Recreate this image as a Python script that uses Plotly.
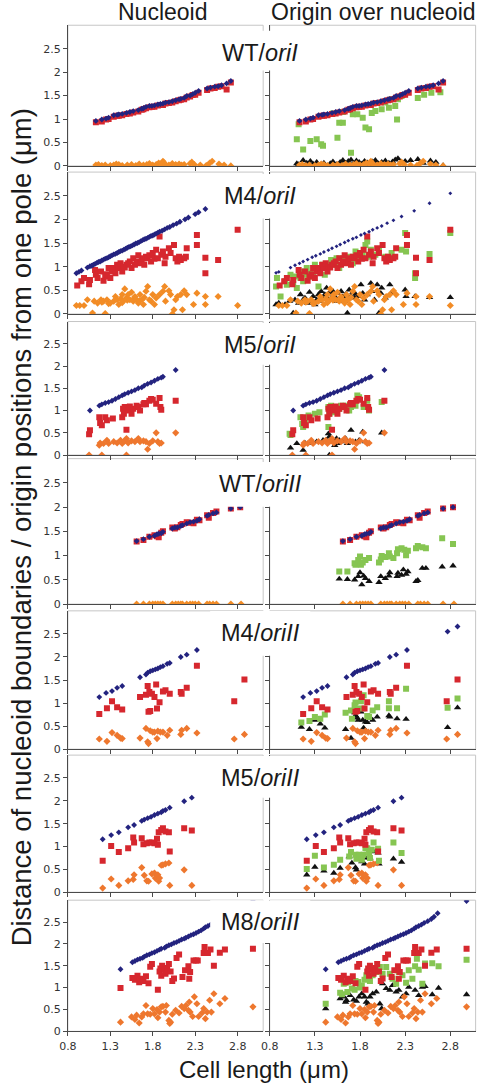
import plotly.graph_objects as go

W, H = 482, 1090

# ---------------- labels ----------------
x_ticks = [0.8, 1.3, 1.8, 2.3, 2.8]
x_tick_labels = ["0.8", "1.3", "1.8", "2.3", "2.8"]
y_ticks = [0, 0.5, 1, 1.5, 2, 2.5]
y_tick_labels = ["0", "0.5", "1", "1.5", "2", "2.5"]
column_titles = ["Nucleoid", "Origin over nucleoid"]
row_titles = ["WT/<i>oriI</i>", "M4/<i>oriI</i>", "M5/<i>oriI</i>", "WT/<i>oriII</i>",
              "M4/<i>oriII</i>", "M5/<i>oriII</i>", "M8/<i>oriII</i>"]
x_axis_title = "Cell length (μm)"
y_axis_title = "Distance of nucleoid boundaries / origin positions from one pole (μm)"

# ---------------- WT / oriI ----------------
WT_oriI_blue_x = [1.13,1.20,1.25,1.28,1.34,1.38,1.40,1.44,1.49,1.53,1.57,1.63,1.67,1.69,1.72,1.76,1.79,1.82,1.86,1.89,
                  1.92,1.95,1.99,2.03,2.07,2.11,2.13,2.17,2.20,2.24,2.27,2.30,2.34,2.44,2.48,2.53,2.57,2.61,2.67,2.72]
WT_oriI_blue_y = [0.96,0.99,1.01,1.03,1.08,1.09,1.10,1.11,1.13,1.15,1.17,1.19,1.22,1.23,1.26,1.28,1.28,1.29,1.31,1.32,
                  1.33,1.35,1.36,1.38,1.40,1.42,1.43,1.45,1.49,1.50,1.53,1.56,1.60,1.65,1.67,1.69,1.70,1.72,1.76,1.81]
WT_oriI_red_x = [1.13,1.20,1.25,1.28,1.34,1.38,1.40,1.44,1.49,1.53,1.57,1.63,1.67,1.69,1.72,1.76,1.79,1.82,1.86,1.89,
                 1.92,1.95,1.99,2.03,2.07,2.11,2.13,2.17,2.20,2.24,2.27,2.30,2.34,2.44,2.48,2.53,2.57,2.61,2.67,2.72]
WT_oriI_red_y = [0.93,0.95,0.99,1.00,1.05,1.07,1.07,1.08,1.11,1.12,1.14,1.16,1.20,1.21,1.23,1.25,1.26,1.26,1.29,1.30,
                 1.30,1.33,1.34,1.35,1.38,1.40,1.41,1.42,1.46,1.48,1.51,1.52,1.56,1.62,1.65,1.66,1.69,1.70,1.63,1.78]
WT_oriI_orange_x = [1.13,1.16,1.20,1.24,1.30,1.34,1.37,1.40,1.44,1.50,1.55,1.60,1.64,1.69,1.73,1.76,1.80,1.84,1.87,1.90,
                    1.92,1.93,1.95,1.99,2.03,2.07,2.11,2.14,2.17,2.24,2.26,2.29,2.36,2.43,2.47,2.50,2.58,2.64,2.72]
WT_oriI_orange_y = [0.02,0.03,0.01,0.02,0.01,0.02,0.04,0.03,0.01,0.02,0.03,0.01,0.04,0.02,0.03,0.05,0.02,0.03,0.06,0.04,
                    0.10,0.07,0.03,0.02,0.05,0.03,0.04,0.02,0.03,0.05,0.08,0.03,0.02,0.01,0.06,0.10,0.04,0.02,0.00]
WT_oriI_green_x = [1.10,1.12,1.17,1.25,1.32,1.37,1.39,1.50,1.55,1.57,1.61,1.61,1.70,1.72,1.77,1.83,1.86,1.90,1.93,1.97,
                   2.04,2.08,2.12,2.15,2.19,2.21,2.22,2.26,2.44,2.51,2.59,2.69]
WT_oriI_green_y = [0.57,0.89,0.35,0.53,0.57,0.46,0.43,1.12,0.60,0.92,0.92,1.15,0.28,1.10,1.10,1.03,0.82,0.78,1.13,1.17,
                   1.21,1.35,1.24,1.42,1.28,0.99,1.42,1.49,1.45,1.52,1.56,1.57]
WT_oriI_black_x = [1.10,1.12,1.17,1.21,1.25,1.28,1.32,1.36,1.40,1.43,1.47,1.50,1.54,1.58,1.61,1.64,1.67,1.70,1.73,1.76,
                   1.79,1.82,1.85,1.88,1.91,1.94,1.97,2.00,2.04,2.08,2.12,2.16,2.19,2.22,2.26,2.30,2.36,2.44,2.50,2.58,
                   2.64,2.72]
WT_oriI_black_y = [0.05,0.03,0.12,0.06,0.10,0.04,0.08,0.02,0.06,0.00,0.05,0.09,0.03,0.08,0.12,0.06,0.10,0.13,0.05,0.11,
                   0.08,0.04,0.10,0.07,0.03,0.09,0.12,0.05,0.08,0.11,0.06,0.09,0.13,0.16,0.07,0.10,0.12,0.14,0.06,0.11,
                   0.08,0.01]

# ---------------- M4 / oriI ----------------
M4_oriI_blue_x = [0.90,0.93,0.96,1.03,1.06,1.08,1.10,1.12,1.14,1.16,1.18,1.20,1.22,1.24,1.26,1.28,1.30,1.32,1.34,1.36,
                  1.38,1.40,1.42,1.44,1.46,1.48,1.50,1.52,1.54,1.56,1.58,1.60,1.62,1.64,1.66,1.68,1.70,1.72,1.74,1.76,
                  1.78,1.80,1.82,1.84,1.86,1.88,1.91,1.94,1.97,2.00,2.04,2.08,2.12,2.18,2.22,2.30,2.34,2.42]
M4_oriI_blue_y = [0.86,0.89,0.92,0.98,1.01,1.02,1.04,1.06,1.08,1.10,1.11,1.13,1.15,1.17,1.18,1.20,1.22,1.24,1.26,1.27,
                  1.29,1.31,1.33,1.34,1.36,1.38,1.40,1.42,1.43,1.45,1.47,1.49,1.50,1.52,1.54,1.56,1.58,1.59,1.61,1.63,
                  1.65,1.66,1.68,1.70,1.72,1.74,1.76,1.79,1.82,1.84,1.88,1.91,1.95,2.00,2.04,2.11,2.15,2.22]
M4_oriI_blue_right_x = [0.87,0.90,1.03,1.08,1.13,1.17,1.22,1.27,1.31,1.36,1.40,1.45,1.49,1.54,1.58,1.63,1.67,1.72,1.76,
                        1.81,1.85,1.90,1.94,1.99,2.04,2.10,2.17,2.26,2.40,2.57,2.80]
M4_oriI_blue_right_y = [0.87,0.89,0.98,1.03,1.07,1.11,1.15,1.20,1.23,1.27,1.31,1.35,1.39,1.43,1.47,1.51,1.55,1.59,1.62,
                        1.67,1.70,1.74,1.78,1.82,1.86,1.92,1.98,2.06,2.18,2.34,2.55]
M4_oriI_red_x = [0.91,0.96,0.99,1.05,1.06,1.12,1.13,1.15,1.19,1.22,1.24,1.26,1.28,1.30,1.32,1.34,1.36,1.38,1.40,1.42,
                 1.44,1.45,1.47,1.49,1.51,1.53,1.55,1.57,1.59,1.61,1.63,1.65,1.67,1.69,1.70,1.72,1.74,1.76,1.78,1.80,
                 1.82,1.84,1.86,1.88,1.90,1.92,1.94,1.95,1.99,2.01,2.05,2.07,2.09,2.11,2.13,2.17,2.19,2.20,2.32,2.32,
                 2.42,2.42,2.57,2.80]
M4_oriI_red_y = [0.60,0.69,0.76,0.63,0.72,0.93,0.83,0.76,0.90,0.70,0.79,0.84,0.97,0.76,0.90,0.97,0.86,1.04,0.97,1.07,
                 0.90,1.00,0.98,1.04,1.07,1.11,0.97,1.18,1.04,1.11,1.24,1.07,1.14,1.18,1.04,1.21,1.18,1.24,1.11,1.29,
                 1.17,1.36,1.18,1.64,1.25,1.32,1.07,1.21,1.39,1.29,1.46,1.18,1.11,1.21,1.14,1.18,1.21,1.39,1.67,1.46,
                 1.19,0.86,1.14,1.78]
M4_oriI_orange_x = [0.90,0.94,0.99,1.03,1.09,1.11,1.15,1.19,1.20,1.22,1.24,1.26,1.28,1.30,1.34,1.36,1.38,1.40,1.42,1.44,
                    1.44,1.45,1.47,1.49,1.50,1.51,1.53,1.55,1.57,1.58,1.59,1.61,1.63,1.64,1.65,1.67,1.69,1.70,1.72,1.74,
                    1.76,1.78,1.80,1.82,1.84,1.88,1.92,1.94,1.95,1.99,2.01,2.03,2.05,2.07,2.09,2.13,2.15,2.17,2.20,2.28,
                    2.32,2.42,2.42,2.57,2.80]
M4_oriI_orange_y = [0.18,0.18,0.18,0.30,0.02,0.27,0.23,0.30,0.25,0.27,0.01,0.30,0.22,0.23,0.27,0.37,0.30,0.20,0.32,0.41,
                    0.24,0.27,0.53,0.34,0.29,0.41,0.30,0.46,0.27,0.33,0.37,0.30,0.23,0.28,0.41,0.30,0.20,0.35,0.48,0.58,
                    0.30,0.27,0.41,0.20,0.34,0.41,0.48,0.58,0.27,0.49,0.41,0.00,0.09,0.30,0.37,0.41,0.09,0.49,0.41,0.20,
                    0.44,0.37,0.20,0.37,0.18]
M4_oriI_green_x = [0.87,0.88,0.92,0.97,0.99,1.03,1.06,1.08,1.10,1.14,1.16,1.17,1.19,1.21,1.25,1.28,1.30,1.32,1.34,1.35,
                   1.39,1.41,1.43,1.46,1.48,1.50,1.54,1.55,1.57,1.61,1.64,1.68,1.70,1.72,1.75,1.79,1.83,1.86,1.88,1.90,
                   1.92,1.97,2.01,2.08,2.13,2.15,2.26,2.30,2.31,2.41,2.41,2.57,2.80]
M4_oriI_green_y = [0.58,0.76,0.37,0.69,0.62,0.83,0.65,0.79,0.55,0.76,0.90,0.69,0.83,0.97,0.86,0.79,1.04,0.93,0.58,0.97,
                   1.04,0.83,1.04,1.00,1.14,1.04,1.18,1.04,0.97,1.18,1.14,1.21,1.11,1.07,1.32,1.21,1.25,1.46,1.53,1.21,
                   1.36,1.25,1.36,1.21,1.18,1.29,1.36,1.71,1.32,0.86,0.76,1.27,1.71]
M4_oriI_black_x = [0.87,0.90,0.97,1.02,1.06,1.08,1.12,1.14,1.17,1.19,1.22,1.24,1.26,1.28,1.30,1.32,1.34,1.35,1.37,1.39,
                   1.41,1.43,1.45,1.46,1.48,1.50,1.52,1.54,1.55,1.57,1.59,1.61,1.63,1.64,1.66,1.68,1.70,1.72,1.74,1.75,
                   1.78,1.81,1.83,1.85,1.88,1.92,1.93,1.96,1.99,2.01,2.03,2.04,2.08,2.13,2.15,2.30,2.31,2.41,2.57,2.80]
M4_oriI_black_y = [0.20,0.23,0.20,0.27,0.02,0.30,0.23,0.41,0.30,0.34,0.23,0.46,0.27,0.37,0.20,0.30,0.41,0.27,0.48,0.34,
                   0.41,0.55,0.30,0.44,0.34,0.48,0.37,0.27,0.44,0.32,0.48,0.37,0.27,0.41,0.02,0.51,0.37,0.46,0.34,0.42,
                   0.37,0.62,0.44,0.30,0.41,0.65,0.48,0.30,0.62,0.02,0.44,0.55,0.34,0.62,0.44,0.51,0.37,0.37,0.35,0.35]

# ---------------- M5 / oriI ----------------
M5_oriI_blue_x = [1.06,1.17,1.20,1.24,1.28,1.32,1.36,1.40,1.44,1.47,1.51,1.55,1.59,1.63,1.67,1.70,1.74,1.78,1.82,1.86,
                  1.90,1.92,2.07]
M5_oriI_blue_y = [1.00,1.11,1.14,1.17,1.19,1.22,1.26,1.30,1.34,1.37,1.40,1.43,1.46,1.50,1.52,1.56,1.60,1.63,1.67,1.71,
                  1.74,1.76,1.91]
M5_oriI_red_x = [1.05,1.06,1.17,1.18,1.20,1.24,1.26,1.33,1.44,1.45,1.46,1.47,1.49,1.51,1.53,1.55,1.57,1.61,1.63,1.65,
                 1.69,1.70,1.72,1.76,1.78,1.80,1.84,1.88,1.89,1.90,2.07]
M5_oriI_red_y = [0.47,0.56,0.85,0.72,0.67,0.85,0.78,0.82,0.85,1.04,0.93,1.08,0.57,1.00,1.09,0.93,1.04,1.11,1.08,1.00,
                 1.14,1.17,1.14,1.22,1.26,1.24,1.15,1.28,1.08,1.02,1.22]
M5_oriI_orange_x = [1.05,1.20,1.49,1.17,1.18,1.22,1.26,1.28,1.34,1.38,1.42,1.44,1.47,1.49,1.51,1.55,1.59,1.63,1.65,1.69,
                    1.72,1.74,1.76,1.80,1.84,1.86,1.88,1.90,2.07]
M5_oriI_orange_y = [0.00,0.00,0.00,0.22,0.27,0.26,0.33,0.26,0.30,0.27,0.33,0.26,0.32,0.37,0.27,0.32,0.30,0.37,0.30,0.32,
                    0.30,0.13,0.26,0.32,0.50,0.30,0.26,0.27,0.50]
M5_oriI_green_x = [1.02,1.03,1.14,1.16,1.17,1.19,1.23,1.30,1.35,1.45,1.45,1.46,1.48,1.50,1.54,1.57,1.59,1.64,1.68,1.70,
                   1.75,1.77,1.79,1.84,1.88,1.90,2.04]
M5_oriI_green_y = [0.48,0.45,0.85,0.70,0.63,0.78,0.89,0.93,0.96,1.08,0.63,0.93,1.11,0.96,1.08,1.04,1.11,1.11,1.00,1.08,
                   1.11,1.34,1.30,1.08,1.22,1.00,1.19]
M5_oriI_black_x = [1.03,1.10,1.17,1.19,1.26,1.32,1.39,1.43,1.45,1.46,1.46,1.48,1.50,1.52,1.54,1.55,1.57,1.61,1.64,1.66,
                   1.70,1.75,1.79,1.83,1.86,2.04]
M5_oriI_black_y = [0.16,0.26,0.11,0.27,0.27,0.30,0.33,0.33,0.48,0.00,0.41,0.30,0.33,0.22,0.37,0.26,0.33,0.30,0.37,0.26,
                   0.56,0.30,0.33,0.52,0.30,0.50]

# ---------------- WT / oriII ----------------
WT_oriII_blue_x = [1.61,1.69,1.76,1.82,1.85,1.87,1.90,1.92,2.03,2.06,2.09,2.13,2.15,2.20,2.24,2.28,2.32,2.35,2.44,2.46,
                   2.51,2.55,2.72,2.83]
WT_oriII_blue_y = [1.30,1.34,1.39,1.41,1.44,1.45,1.46,1.49,1.56,1.58,1.58,1.61,1.63,1.66,1.69,1.70,1.72,1.75,1.82,1.84,
                   1.87,1.89,1.97,2.00]
WT_oriII_red_x = [1.61,1.69,1.76,1.82,1.85,1.87,1.90,1.92,2.03,2.06,2.09,2.13,2.15,2.20,2.24,2.28,2.32,2.35,2.44,2.46,
                  2.51,2.55,2.72,2.83]
WT_oriII_red_y = [1.29,1.32,1.39,1.42,1.40,1.38,1.47,1.50,1.58,1.56,1.585,1.63,1.65,1.69,1.68,1.67,1.74,1.73,1.83,1.78,
                  1.88,1.91,1.97,2.00]
WT_oriII_orange_x = [1.61,1.69,1.76,1.80,1.83,1.86,1.89,1.92,2.03,2.07,2.10,2.13,2.15,2.20,2.24,2.27,2.30,2.34,2.44,2.47,
                     2.51,2.55,2.72,2.84]
WT_oriII_orange_y = [0.0,0.0,0.0,0.0,0.0,0.0,0.0,0.0,0.0,0.0,0.0,0.0,0.0,0.0,0.0,0.0,0.0,0.0,0.0,0.0,
                     0.0,0.0,0.0,0.0]
WT_oriII_green_x = [1.57,1.66,1.74,1.75,1.78,1.80,1.81,1.83,1.86,1.90,2.01,2.03,2.04,2.08,2.12,2.13,2.17,2.21,2.22,2.26,
                    2.29,2.31,2.33,2.42,2.44,2.49,2.53,2.71,2.83]
WT_oriII_green_y = [0.67,0.67,0.84,0.81,0.91,0.98,0.81,0.86,0.91,0.95,0.86,0.92,0.99,0.97,1.05,0.98,0.95,1.05,1.13,1.15,
                    1.12,1.01,1.10,1.15,1.20,1.17,1.15,1.36,1.24]
WT_oriII_black_x = [1.57,1.66,1.74,1.78,1.80,1.82,1.84,1.86,1.90,2.01,2.03,2.08,2.12,2.13,2.21,2.22,2.26,2.28,2.31,2.33,
                    2.42,2.44,2.49,2.53,2.71,2.83]
WT_oriII_black_y = [0.52,0.51,0.50,0.57,0.65,0.40,0.58,0.53,0.47,0.45,0.57,0.53,0.58,0.65,0.57,0.64,0.60,0.71,0.62,0.67,
                    0.47,0.49,0.74,0.74,0.77,0.79]

# ---------------- M4 / oriII ----------------
M4_oriII_blue_x = [1.17,1.25,1.32,1.38,1.44,1.65,1.72,1.74,1.77,1.80,1.83,1.86,1.89,1.92,1.97,2.00,2.13,2.20,2.32,2.77,2.88]
M4_oriII_blue_y = [1.13,1.22,1.26,1.33,1.37,1.56,1.62,1.66,1.69,1.71,1.73,1.75,1.78,1.80,1.85,1.87,2.00,2.05,2.15,2.55,2.66]
M4_oriII_red_x = [1.17,1.26,1.32,1.38,1.44,1.65,1.72,1.74,1.75,1.76,1.77,1.79,1.82,1.84,1.85,1.88,1.92,1.95,2.00,2.13,
                  2.14,2.20,2.32,2.76,2.88]
M4_oriII_red_y = [0.76,0.89,1.04,0.91,0.86,1.13,1.18,1.37,0.81,1.24,0.83,1.20,1.13,1.40,0.88,1.02,1.25,1.28,1.20,1.24,
                  1.20,1.33,1.81,1.04,1.51]
M4_oriII_orange_x = [1.17,1.26,1.32,1.38,1.42,1.44,1.65,1.72,1.74,1.75,1.77,1.80,1.82,1.85,1.86,1.89,1.92,1.97,2.00,2.13,
                     2.14,2.20,2.32,2.76,2.88]
M4_oriII_orange_y = [0.22,0.17,0.36,0.30,0.24,0.23,0.24,0.45,0.16,0.12,0.40,0.37,0.37,0.23,0.39,0.37,0.37,0.30,0.41,0.32,
                     0.41,0.45,0.35,0.22,0.32]
M4_oriII_green_x = [1.15,1.24,1.30,1.36,1.41,1.64,1.70,1.71,1.74,1.75,1.77,1.81,1.83,1.84,1.88,1.90,1.94,1.99,2.12,2.12,
                    2.21,2.31,2.77,2.88]
M4_oriII_green_y = [0.58,0.61,0.70,0.66,0.75,0.79,0.84,0.66,0.95,1.01,0.88,1.04,0.88,1.17,0.72,0.70,0.84,0.91,1.04,0.89,
                    0.89,1.31,0.90,1.10]
M4_oriII_black_x = [1.15,1.24,1.30,1.36,1.41,1.64,1.70,1.74,1.75,1.77,1.78,1.81,1.83,1.84,1.86,1.88,1.94,1.99,2.12,2.13,
                    2.21,2.31,2.77,2.88]
M4_oriII_black_y = [0.48,0.43,0.63,0.55,0.46,0.43,0.24,0.79,0.73,0.68,0.63,0.81,0.63,0.46,0.59,0.58,0.63,0.70,0.73,0.70,
                    0.66,0.65,0.47,0.90]

# ---------------- M5 / oriII ----------------
M5_oriII_blue_x = [1.21,1.31,1.40,1.51,1.58,1.67,1.70,1.74,1.78,1.82,1.86,1.90,1.92,1.95,2.00,2.17,2.26]
M5_oriII_blue_y = [1.16,1.25,1.31,1.42,1.47,1.56,1.59,1.62,1.65,1.69,1.72,1.75,1.78,1.80,1.85,1.99,2.07]
M5_oriII_red_x = [1.21,1.31,1.40,1.51,1.57,1.58,1.67,1.69,1.73,1.76,1.79,1.82,1.85,1.86,1.87,1.90,1.92,1.95,1.99,2.00,
                  2.17,2.26]
M5_oriII_red_y = [0.69,1.01,0.88,0.96,1.20,1.09,1.18,1.05,1.07,1.09,1.09,1.07,1.17,1.04,1.31,1.36,1.40,1.33,1.31,0.89,
                  1.40,1.35]
M5_oriII_orange_x = [1.21,1.31,1.40,1.51,1.57,1.58,1.67,1.70,1.73,1.75,1.79,1.82,1.83,1.86,1.87,1.88,1.90,1.92,1.95,1.99,
                     2.00,2.17,2.26]
M5_oriII_orange_y = [0.09,0.29,0.15,0.25,0.28,0.38,0.54,0.37,0.25,0.24,0.40,0.42,0.31,0.38,0.24,0.31,0.59,0.60,0.62,0.64,
                     0.15,0.49,0.15]
M5_oriII_green_x = [1.21,1.30,1.40,1.51,1.58,1.68,1.70,1.75,1.76,1.79,1.82,1.84,1.86,1.88,1.90,1.91,1.93,1.95,2.00,2.01,
                    2.17,2.26]
M5_oriII_green_y = [0.51,0.80,0.54,0.60,0.71,0.78,0.88,0.82,0.73,0.82,0.71,0.82,0.96,0.96,0.88,0.75,0.93,1.09,0.95,0.69,
                    1.09,0.86]
M5_oriII_black_x = [1.21,1.30,1.40,1.51,1.58,1.68,1.71,1.75,1.76,1.79,1.82,1.85,1.88,1.91,1.95,2.00,2.01,2.17,2.26]
M5_oriII_black_y = [0.38,0.55,0.47,0.42,0.53,0.78,0.64,0.54,0.49,0.75,0.67,0.62,0.75,0.75,0.89,0.86,0.62,0.73,0.66]

# ---------------- M8 / oriII ----------------
M8_oriII_blue_x = [1.42,1.56,1.59,1.62,1.65,1.68,1.70,1.73,1.76,1.79,1.82,1.85,1.88,1.90,1.94,1.96,1.99,2.02,2.05,2.08,
                   2.11,2.14,2.17,2.19,2.22,2.25,2.28,2.31,2.34,2.37,2.40,2.42,2.45,2.48,2.51,2.55,2.59,2.62,2.66,2.98]
M8_oriII_blue_y = [1.42,1.58,1.61,1.64,1.66,1.68,1.71,1.74,1.76,1.79,1.81,1.84,1.87,1.89,1.91,1.94,1.97,1.99,2.02,2.04,
                   2.07,2.10,2.12,2.14,2.17,2.20,2.22,2.25,2.28,2.31,2.35,2.38,2.41,2.44,2.48,2.52,2.57,2.62,2.70,2.98]
M8_oriII_red_x = [1.42,1.56,1.59,1.62,1.64,1.66,1.69,1.72,1.75,1.77,1.79,1.86,1.88,1.89,1.90,1.91,1.94,1.95,1.97,1.99,
                  2.01,2.03,2.05,2.08,2.11,2.15,2.18,2.22,2.23,2.24,2.28,2.31,2.33,2.40,2.41,2.45,2.48,2.52,2.59,2.65,
                  2.98]
M8_oriII_red_y = [0.99,1.22,1.18,1.27,1.12,1.20,1.15,1.26,1.10,1.48,1.54,0.95,1.37,1.44,1.27,1.50,1.41,1.32,1.45,1.54,
                  1.37,1.15,1.21,1.68,1.76,1.24,1.40,1.49,1.20,1.36,1.62,1.62,1.62,1.79,1.93,1.79,1.87,1.50,1.80,1.87,
                  1.89]
M8_oriII_orange_x = [1.42,1.55,1.59,1.61,1.64,1.67,1.69,1.72,1.74,1.77,1.80,1.82,1.85,1.86,1.88,1.90,1.92,1.95,1.96,1.99,
                     2.00,2.01,2.03,2.07,2.11,2.14,2.17,2.19,2.22,2.23,2.24,2.27,2.29,2.32,2.34,2.38,2.40,2.42,2.44,2.47,
                     2.49,2.52,2.59,2.65,2.98]
M8_oriII_orange_y = [0.21,0.33,0.27,0.37,0.19,0.33,0.40,0.59,0.40,0.39,0.52,0.40,0.50,0.31,0.44,0.56,0.57,0.44,0.59,0.25,
                     0.18,0.21,0.39,0.48,0.42,0.57,0.52,0.59,0.48,0.67,0.44,0.34,0.79,0.63,0.34,0.42,0.52,0.29,0.44,0.71,
                     0.44,0.86,0.63,0.75,0.56]
M8_oriII_green_x = [1.42,1.58,1.62,1.64,1.67,1.71,1.75,1.78,1.82,1.85,1.87,1.91,1.94,1.98,2.02,2.05,2.09,2.13,2.16,2.20,
                    2.23,2.27,2.31,2.34,2.38,2.41,2.43,2.45,2.49,2.52,2.60,2.67,2.98,1.60,1.66,1.74,1.80]
M8_oriII_green_y = [0.63,0.88,1.09,1.11,1.13,0.98,1.15,1.13,1.05,1.18,1.28,1.15,1.28,1.36,1.47,1.32,1.47,1.32,1.20,1.09,
                    1.36,1.28,1.11,1.40,1.20,1.49,1.66,1.41,1.09,1.55,1.56,1.49,1.64,0.85,0.90,0.95,1.00]
M8_oriII_black_x = [1.42,1.58,1.62,1.64,1.65,1.69,1.73,1.76,1.79,1.82,1.85,1.87,1.89,1.91,1.94,1.98,2.02,2.04,2.05,2.09,
                    2.13,2.16,2.20,2.23,2.27,2.31,2.34,2.41,2.45,2.49,2.52,2.60,2.67,2.98]
M8_oriII_black_y = [0.52,0.75,0.79,0.67,0.71,0.82,0.72,0.69,0.79,0.86,0.79,0.67,0.63,0.79,0.86,0.90,0.63,0.52,1.09,0.98,
                    0.94,1.05,0.90,0.94,0.79,0.86,1.01,0.94,0.82,1.01,1.03,0.84,0.99,0.84]

# ---------------- styling ----------------
BLUE = "#23237f"
RED = "#d6272e"
ORANGE_A = "#f28c26"
ORANGE_B = "#ee772e"
GREEN = "#86c552"
BLACK = "#111111"
AXIS = "#4a4a4a"
BORDER = "#c6c6c6"
TEXT = "#1a1a1a"
TITLE_FONT = "Liberation Sans, Arial, sans-serif"
TICK_FONT = "DejaVu Sans, Verdana, sans-serif"

panels = [
    dict(blue_l=(WT_oriI_blue_x, WT_oriI_blue_y), blue_r=(WT_oriI_blue_x, WT_oriI_blue_y), blue_r_size=4.5,
         red=(WT_oriI_red_x, WT_oriI_red_y), orange=(WT_oriI_orange_x, WT_oriI_orange_y),
         green=(WT_oriI_green_x, WT_oriI_green_y), black=(WT_oriI_black_x, WT_oriI_black_y), oc=ORANGE_A),
    dict(blue_l=(M4_oriI_blue_x, M4_oriI_blue_y), blue_r=(M4_oriI_blue_right_x, M4_oriI_blue_right_y), blue_r_size=3,
         red=(M4_oriI_red_x, M4_oriI_red_y), orange=(M4_oriI_orange_x, M4_oriI_orange_y),
         green=(M4_oriI_green_x, M4_oriI_green_y), black=(M4_oriI_black_x, M4_oriI_black_y), oc=ORANGE_A),
    dict(blue_l=(M5_oriI_blue_x, M5_oriI_blue_y), blue_r=(M5_oriI_blue_x, M5_oriI_blue_y), blue_r_size=4.5,
         red=(M5_oriI_red_x, M5_oriI_red_y), orange=(M5_oriI_orange_x, M5_oriI_orange_y),
         green=(M5_oriI_green_x, M5_oriI_green_y), black=(M5_oriI_black_x, M5_oriI_black_y), oc=ORANGE_B),
    dict(blue_l=(WT_oriII_blue_x, WT_oriII_blue_y), blue_r=(WT_oriII_blue_x, WT_oriII_blue_y), blue_r_size=4.5,
         red=(WT_oriII_red_x, WT_oriII_red_y), orange=(WT_oriII_orange_x, WT_oriII_orange_y),
         green=(WT_oriII_green_x, WT_oriII_green_y), black=(WT_oriII_black_x, WT_oriII_black_y), oc=ORANGE_A),
    dict(blue_l=(M4_oriII_blue_x, M4_oriII_blue_y), blue_r=(M4_oriII_blue_x, M4_oriII_blue_y), blue_r_size=4.5,
         red=(M4_oriII_red_x, M4_oriII_red_y), orange=(M4_oriII_orange_x, M4_oriII_orange_y),
         green=(M4_oriII_green_x, M4_oriII_green_y), black=(M4_oriII_black_x, M4_oriII_black_y), oc=ORANGE_B),
    dict(blue_l=(M5_oriII_blue_x, M5_oriII_blue_y), blue_r=(M5_oriII_blue_x, M5_oriII_blue_y), blue_r_size=4.5,
         red=(M5_oriII_red_x, M5_oriII_red_y), orange=(M5_oriII_orange_x, M5_oriII_orange_y),
         green=(M5_oriII_green_x, M5_oriII_green_y), black=(M5_oriII_black_x, M5_oriII_black_y), oc=ORANGE_B),
    dict(blue_l=(M8_oriII_blue_x, M8_oriII_blue_y), blue_r=(M8_oriII_blue_x, M8_oriII_blue_y), blue_r_size=4.5,
         red=(M8_oriII_red_x, M8_oriII_red_y), orange=(M8_oriII_orange_x, M8_oriII_orange_y),
         green=(M8_oriII_green_x, M8_oriII_green_y), black=(M8_oriII_black_x, M8_oriII_black_y), oc=ORANGE_B),
]

# layout geometry in pixels: (top of plot, y=0 line, title centre, title box bottom)
row_geom = [
    (25.4, 167, 53, 71),
    (173.2, 316, 197, 220),
    (323.6, 458, 347, 367),
    (461.6, 608, 487, 510),
    (614.8, 754, 637, 660),
    (760, 898, 783, 803),
    (906, 1038, 928, 949),
]
LEFT_DOM = (60, 259)
RIGHT_DOM = (265.7, 475.5)
LEFT_RANGE = [0.8, 0.8 + (259 - 60) / 86.5]
RIGHT_RANGE = [0.8, 0.8 + (475.5 - 265.7) / 92.0]

fig = go.Figure()
layout_upd = {}
shapes = []
annotations = []


def add_pts(xy, symbol, color, size, xa, ya):
    fig.add_trace(go.Scatter(
        x=xy[0], y=xy[1], mode="markers",
        marker=dict(symbol=symbol, color=color, size=size, line=dict(width=0)),
        xaxis=xa, yaxis=ya, showlegend=False, hoverinfo="skip"))


n_rows = len(panels)
for i, (pan, geo) in enumerate(zip(panels, row_geom)):
    top, zero, ty, bb = geo
    for j in range(2):
        n = 2 * i + j + 1
        xa = "x" if n == 1 else f"x{n}"
        ya = "y" if n == 1 else f"y{n}"
        dom = LEFT_DOM if j == 0 else RIGHT_DOM
        rng = LEFT_RANGE if j == 0 else RIGHT_RANGE
        xd = [dom[0] / W, dom[1] / W]
        yd = [1 - zero / H, 1 - top / H]
        layout_upd["xaxis" if n == 1 else f"xaxis{n}"] = dict(
            domain=xd, range=rng, anchor=ya, tickmode="array", tickvals=x_ticks, ticktext=x_tick_labels,
            showticklabels=(i == n_rows - 1), ticks="outside", ticklen=4, tickwidth=1, tickcolor=AXIS,
            showline=True, linecolor=AXIS, linewidth=1, showgrid=False, zeroline=False,
            tickfont=dict(family=TICK_FONT, size=11, color="#333333"), fixedrange=True)
        layout_upd["yaxis" if n == 1 else f"yaxis{n}"] = dict(
            domain=yd, range=[0, 3], anchor=xa, tickmode="array", tickvals=y_ticks, ticktext=y_tick_labels,
            showticklabels=(j == 0), ticks="outside", ticklen=4, tickwidth=1, tickcolor=AXIS,
            showline=True, linecolor=AXIS, linewidth=1, showgrid=False, zeroline=False,
            tickfont=dict(family=TICK_FONT, size=11, color="#333333"), fixedrange=True)
        shapes.append(dict(type="rect", xref="paper", yref="paper", x0=xd[0], x1=xd[1], y0=yd[0], y1=yd[1],
                           line=dict(color=BORDER, width=1), fillcolor="rgba(0,0,0,0)", layer="below"))
        if j == 0:
            add_pts(pan["orange"], "diamond", pan["oc"], 5.5, xa, ya)
            add_pts(pan["red"], "square", RED, 6, xa, ya)
            add_pts(pan["blue_l"], "diamond", BLUE, 4.5, xa, ya)
        else:
            add_pts(pan["black"], "triangle-up", BLACK, 6.5, xa, ya)
            add_pts(pan["orange"], "diamond", pan["oc"], 5.5, xa, ya)
            add_pts(pan["green"], "square", GREEN, 6, xa, ya)
            add_pts(pan["red"], "square", RED, 6, xa, ya)
            add_pts(pan["blue_r"], "diamond", BLUE, pan["blue_r_size"], xa, ya)
    # white box behind the row title
    shapes.append(dict(type="rect", xref="paper", yref="paper", x0=205 / W, x1=307 / W,
                       y0=1 - bb / H, y1=1 - (ty - 22) / H, line=dict(width=0), fillcolor="white", layer="above"))
    annotations.append(dict(text=row_titles[i], x=256 / W, y=1 - ty / H, xref="paper", yref="paper",
                            xanchor="center", yanchor="middle", showarrow=False,
                            font=dict(family=TITLE_FONT, size=23.5, color=TEXT)))

annotations.append(dict(text=column_titles[0], x=157 / W, y=1 - 12 / H, xref="paper", yref="paper",
                        xanchor="center", yanchor="middle", showarrow=False,
                        font=dict(family=TITLE_FONT, size=23, color=TEXT)))
annotations.append(dict(text=column_titles[1], x=371 / W, y=1 - 12 / H, xref="paper", yref="paper",
                        xanchor="center", yanchor="middle", showarrow=False,
                        font=dict(family=TITLE_FONT, size=23, color=TEXT)))
annotations.append(dict(text=y_axis_title, x=13 / W, y=1 - 531 / H, xref="paper", yref="paper",
                        xanchor="center", yanchor="middle", textangle=-90, showarrow=False,
                        font=dict(family=TITLE_FONT, size=27.5, color=TEXT)))
annotations.append(dict(text=x_axis_title, x=260 / W, y=1 - 1076 / H, xref="paper", yref="paper",
                        xanchor="center", yanchor="middle", showarrow=False,
                        font=dict(family=TITLE_FONT, size=24, color=TEXT)))

fig.update_layout(**layout_upd)
fig.update_layout(width=W, height=H, margin=dict(l=0, r=0, t=0, b=0), autosize=False,
                  paper_bgcolor="white", plot_bgcolor="white", showlegend=False,
                  shapes=shapes, annotations=annotations, hovermode=False)
fig.write_html("out.html",
               config={"displayModeBar": False, "staticPlot": True},
               post_script="document.body.style.margin='0';document.body.style.overflow='hidden';"
                           "document.documentElement.style.overflow='hidden';")
